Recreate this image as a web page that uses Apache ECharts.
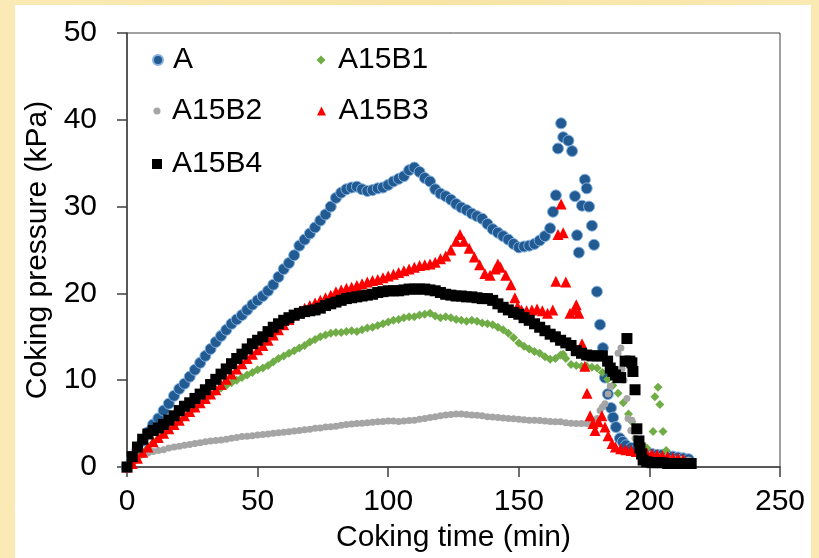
<!DOCTYPE html>
<html>
<head>
<meta charset="utf-8">
<script src="https://cdn.jsdelivr.net/npm/echarts@6/dist/echarts.min.js"></script>
<style>
  html, body { margin: 0; padding: 0; }
  body { width: 819px; height: 558px; overflow: hidden; position: relative;
         background: linear-gradient(90deg, #fbeab5 0%, #f7e3a4 50%, #fbe9b3 100%); }
  #panel { position: absolute; left: 15px; top: 5px; width: 796px; height: 553px; background: #ffffff; }
  #chart { position: absolute; left: 0; top: 0; width: 819px; height: 558px; }
</style>
</head>
<body>
<div id="panel"></div>
<div id="chart"></div>
<script>
// ---- data: [coking time (min), coking pressure (kPa)] ----
const seriesNames = ['A', 'A15B1', 'A15B2', 'A15B3', 'A15B4'];
const xTicks = [0, 50, 100, 150, 200, 250];
const yTicks = [0, 10, 20, 30, 40, 50];

const dataA = [
 [0,0],[2,1.0],[4,2.0],[6,3.0],[8,4.0],[10,4.9],[12,5.6],[14,6.5],[16,7.3],[18,8.2],[20,9.0],[22,9.6],[24,10.4],[26,11.2],[28,12.0],
 [30,12.8],[32,13.6],[34,14.4],[36,15.1],[38,15.8],[40,16.5],[42,17.0],[44,17.5],[46,18.1],[48,18.7],[50,19.2],[52,19.7],[54,20.3],
 [56,21.0],[58,21.9],[60,22.8],[62,23.5],[64,24.4],[66,25.5],[68,26.2],[70,26.9],[72,27.6],[74,28.4],[76,29.1],[78,30.0],[80,31.0],
 [82,31.6],[84,32.0],[86,32.2],[88,32.3],[90,32.0],[92,31.8],[94,31.9],[96,32.1],[98,32.2],[100,32.5],[102,32.9],[104,33.2],[106,33.5],
 [108,34.2],[110,34.5],[112,34.0],[114,33.3],[116,32.9],[118,32.0],[120,31.5],[122,31.2],[124,30.8],[126,30.3],[128,29.9],[130,29.6],
 [132,29.2],[134,28.9],[136,28.6],[138,28.0],[140,27.4],[142,27.0],[144,26.6],[146,26.2],[148,25.7],[150,25.3],[152,25.4],[154,25.5],
 [156,25.7],[158,26.1],[160,26.6],[162,27.5],[163.1,29.4],[164.2,31.3],[165,36.7],[166.2,39.6],[167,38.0],[169,37.6],[170.4,36.4],
 [171.5,31.2],[172.3,26.7],[173,24.7],[174.2,30.1],[175.3,33.1],[176,32.1],[176.9,30.0],[178,27.8],[178.8,25.6],[179.9,20.2],
 [181.1,16.4],[182.2,13.7],[183,10.3],[184.1,8.4],[185.3,6.8],[186.1,5.7],[187.2,4.6],[188.7,3.3],[189.8,2.9],[191,2.5],[193,2.2],
 [195,2.0],[197,1.8],[199,1.6],[201,1.5],[203,1.4],[205,1.4],[207,1.3],[209,1.2],[211,1.1],[213,1.0],[215,0.9]
];

const dataB1 = [
 [0,0],[2,0.4],[4,1.0],[6,1.6],[8,2.2],[10,2.8],[12,3.3],[14,3.8],[16,4.3],[18,4.8],[20,5.3],[22,5.8],[24,6.3],[26,6.8],[28,7.3],
 [30,7.8],[32,8.3],[34,8.7],[36,9.1],[38,9.4],[40,9.7],[42,10.0],[44,10.3],[46,10.6],[48,10.9],[50,11.2],[52,11.4],[54,11.7],
 [56,12.1],[58,12.5],[60,12.8],[62,13.1],[64,13.4],[66,13.7],[68,14.0],[70,14.4],[72,14.7],[74,15.0],[76,15.2],[78,15.4],[80,15.5],
 [82,15.5],[84,15.6],[86,15.7],[88,15.6],[90,15.8],[92,16.0],[94,16.1],[96,16.3],[98,16.5],[100,16.7],[102,16.9],[104,17.0],
 [106,17.2],[108,17.3],[110,17.3],[112,17.5],[114,17.6],[116,17.7],[118,17.4],[120,17.2],[122,17.3],[124,17.2],[126,17.0],
 [128,16.9],[130,16.8],[132,16.9],[134,16.8],[136,16.6],[138,16.5],[140,16.4],[142,16.1],[144,15.8],[146,15.4],[148,14.9],
 [150,14.3],[152,13.9],[154,13.6],[156,13.3],[158,13.1],[160,12.7],[162,12.4],[164,12.5],[166,12.9],[167,13.0],[168,12.5],
 [170,11.8],[172,11.7],[174,11.6],[176,11.6],[178,11.5],[180,11.4],[182,10.9],[184,10.1],[186,9.4],[188,8.5],[190,7.4],[192,6.1],
 [193.3,5.2],[194.5,4.3],[195.6,3.0],[197,2.6],[199,2.2],[201.4,4.1],[202.1,8.1],[203.3,9.2],[204,7.2],[205.2,4.1],[206.4,1.9]
];

const dataB2 = [
 [0,0],[2,0.6],[4,1.1],[6,1.4],[8,1.6],[10,1.8],[12,1.9],[14,2.0],[16,2.2],[18,2.3],[20,2.4],[22,2.5],[24,2.6],[26,2.7],[28,2.8],
 [30,2.9],[32,3.0],[34,3.05],[36,3.1],[38,3.2],[40,3.3],[42,3.4],[44,3.5],[46,3.55],[48,3.6],[50,3.7],[52,3.75],[54,3.8],[56,3.9],
 [58,3.95],[60,4.0],[62,4.05],[64,4.15],[66,4.2],[68,4.3],[70,4.35],[72,4.45],[74,4.5],[76,4.6],[78,4.65],[80,4.7],[82,4.8],
 [84,4.9],[86,4.95],[88,5.0],[90,5.05],[92,5.1],[94,5.15],[96,5.2],[98,5.25],[100,5.3],[102,5.3],[104,5.25],[106,5.3],[108,5.35],
 [110,5.4],[112,5.5],[114,5.6],[116,5.7],[118,5.8],[120,5.9],[122,6.0],[124,6.05],[126,6.1],[128,6.1],[130,6.05],[132,6.0],
 [134,5.95],[136,5.9],[138,5.8],[140,5.75],[142,5.7],[144,5.65],[146,5.6],[148,5.55],[150,5.5],[152,5.45],[154,5.4],[156,5.4],
 [158,5.35],[160,5.3],[162,5.25],[164,5.2],[166,5.2],[168,5.1],[170,5.05],[172,5.0],[174,5.0],[176,5.0],[178,5.1],[180,5.6],
 [181.1,6.5],[182,6.9],[183,7.3],[184.2,8.4],[185,9.3],[188,13.1],[189.1,13.7],[189.5,11.3],[190.3,10.0],[191.4,7.9],[191.8,5.6],
 [192.9,4.2],[193.3,5.4],[194.5,3.3],[196,2.3],[198,1.8],[200,1.5],[203,1.3],[206,1.1],[209,1.0],[212,0.9],[215,0.8]
];

const dataB3 = [
 [0,0],[2,0.4],[4,1.0],[6,1.7],[8,2.3],[10,2.9],[12,3.4],[14,3.9],[16,4.4],[18,4.9],[20,5.4],[22,5.9],[24,6.4],[26,6.9],[28,7.4],
 [30,7.9],[32,8.4],[34,8.9],[36,9.5],[38,10.1],[40,10.7],[42,11.3],[44,11.9],[46,12.5],[48,13.0],[50,13.5],[52,14.0],[54,14.6],
 [56,15.2],[58,15.8],[60,16.4],[62,17.0],[64,17.5],[66,17.9],[68,18.3],[70,18.6],[72,18.9],[74,19.2],[76,19.5],[78,19.8],[80,20.2],
 [82,20.4],[84,20.6],[86,20.7],[88,20.9],[90,21.1],[92,21.3],[94,21.5],[96,21.6],[98,21.8],[100,22.0],[102,22.2],[104,22.4],
 [106,22.6],[108,22.8],[110,23.0],[112,23.2],[114,23.3],[116,23.4],[118,23.6],[120,24.0],[122,24.3],[124,25.0],[126,26.0],
 [127.5,26.8],[129,26.0],[131,25.2],[133,24.2],[135,23.3],[137,22.3],[139,22.1],[141,22.8],[142,23.4],[143,23.0],[145,22.1],
 [147,21.0],[148.5,19.5],[149.5,18.5],[151,18.1],[153,18.0],[155,18.1],[157,18.2],[159,18.0],[161,17.7],[163,18.1],
 [164.2,21.4],[165,26.8],[166.2,30.3],[167,27.0],[168,21.3],[169.6,17.7],[171.2,18.1],[172,18.7],[173,17.7],[174.2,14.2],
 [175.3,11.6],[176.1,8.5],[177.3,5.9],[178.4,5.0],[179.2,4.2],[180.5,5.2],[181.8,5.9],[183,4.6],[184.2,3.6],[185.7,2.7],
 [187,2.3],[189,2.1],[191,2.0],[193,1.9],[195,1.8],[197,1.7],[199,1.6],[201,1.5],[203,1.4],[205,1.3],[207,1.2],[209,1.1],
 [211,1.0],[213,0.9]
];

const dataB4 = [
 [0,0],[2,1.2],[4,2.3],[6,3.2],[8,3.8],[10,4.2],[12,4.5],[14,4.9],[16,5.4],[18,5.9],[20,6.5],[22,7.0],[24,7.4],[26,7.9],[28,8.4],
 [30,8.9],[32,9.5],[34,10.1],[36,10.7],[38,11.3],[40,11.9],[42,12.5],[44,13.0],[46,13.6],[48,14.2],[50,14.6],[52,15.0],[54,15.6],
 [56,16.1],[58,16.5],[60,16.9],[62,17.2],[64,17.5],[66,17.7],[68,17.9],[70,18.0],[72,18.1],[74,18.3],[76,18.6],[78,18.8],[80,19.0],
 [82,19.2],[84,19.4],[86,19.5],[88,19.6],[90,19.7],[92,19.8],[94,19.9],[96,20.1],[98,20.2],[100,20.3],[102,20.3],[104,20.3],
 [106,20.4],[108,20.5],[110,20.5],[112,20.5],[114,20.5],[116,20.4],[118,20.3],[120,20.1],[122,19.9],[124,19.8],[126,19.7],
 [128,19.7],[130,19.6],[132,19.6],[134,19.5],[136,19.4],[138,19.4],[140,19.2],[142,18.8],[144,18.4],[146,18.1],[148,17.8],
 [150,17.6],[152,17.2],[154,16.9],[156,16.5],[158,16.1],[160,15.7],[162,15.3],[164,15.0],[166,14.6],[168,14.3],[170,14.0],
 [172,13.4],[174,13.1],[176,12.9],[178,12.8],[180,12.8],[182,12.8],[184,12.2],[185,11.4],[186,11.0],[187,10.6],[188,10.3],
 [189,10.3],[190.7,12.2],[191.4,14.8],[192.5,12.2],[193.3,12.0],[193.7,11.0],[194.5,8.9],[195.2,4.4],[196,3.0],[196.4,2.2],
 [197,1.5],[197.6,0.8],[199,0.6],[201,0.5],[203,0.5],[205,0.5],[207,0.4],[209,0.4],[211,0.4],[213,0.4],[215,0.4],[216,0.4]
];

const chart = echarts.init(document.getElementById('chart'), null, { renderer: 'canvas' });
const FONT = 'Liberation Sans, Arial, sans-serif';

function legendItem(name, left, top, w, h, pad) {
  return {
    data: [name], left: left, top: top, orient: 'horizontal', padding: 0,
    itemWidth: w, itemHeight: h, selectedMode: false,
    textStyle: { fontFamily: FONT, fontSize: 30, color: '#000', padding: [0, 0, 0, pad] }
  };
}

const option = {
  backgroundColor: 'transparent',
  animation: false,
  grid: { left: 127, right: 39, top: 33, bottom: 86, show: true, borderColor: '#404040', borderWidth: 1, backgroundColor: 'transparent' },
  legend: [
    legendItem('A',     152, 45, 10, 10, 5),
    legendItem('A15B1', 316.5, 45, 9, 9, 7.5),
    legendItem('A15B2', 153.5, 96, 7, 7, 6.5),
    legendItem('A15B3', 317, 96, 9, 9, 7.5),
    legendItem('A15B4', 152, 149, 10, 10, 5)
  ],
  xAxis: {
    type: 'value', min: xTicks[0], max: xTicks[xTicks.length - 1], interval: 50,
    name: 'Coking time (min)', nameLocation: 'middle', nameGap: 56,
    nameTextStyle: { fontFamily: FONT, fontSize: 30, color: '#000' },
    axisLine: { show: true, lineStyle: { color: '#404040', width: 1.5 } },
    axisTick: { show: true, inside: false, length: 10, lineStyle: { color: '#404040', width: 1.5 } },
    axisLabel: { fontFamily: FONT, fontSize: 30, color: '#000', margin: 20 },
    splitLine: { show: false }
  },
  yAxis: {
    type: 'value', min: yTicks[0], max: yTicks[yTicks.length - 1], interval: 10,
    name: 'Coking pressure (kPa)', nameLocation: 'middle', nameGap: 66, nameRotate: 90,
    nameTextStyle: { fontFamily: FONT, fontSize: 30, color: '#000' },
    axisLine: { show: true, lineStyle: { color: '#404040', width: 1.5 } },
    axisTick: { show: true, inside: false, length: 10, lineStyle: { color: '#404040', width: 1.5 } },
    axisLabel: { fontFamily: FONT, fontSize: 30, color: '#000', margin: 30 },
    splitLine: { show: false }
  },
  series: [
    { name: seriesNames[0], type: 'scatter', data: dataA, symbol: 'circle', symbolSize: 11,
      itemStyle: { color: '#225a92', borderColor: '#82b0e0', borderWidth: 1, opacity: 1 } },
    { name: seriesNames[1], type: 'scatter', data: dataB1, symbol: 'diamond', symbolSize: 9,
      itemStyle: { color: '#70ad47', opacity: 1 } },
    { name: seriesNames[2], type: 'scatter', data: dataB2, symbol: 'circle', symbolSize: 7,
      itemStyle: { color: '#a5a5a5', opacity: 1 } },
    { name: seriesNames[3], type: 'scatter', data: dataB3, symbol: 'triangle', symbolSize: 11,
      itemStyle: { color: '#ff0000', opacity: 1 } },
    { name: seriesNames[4], type: 'scatter', data: dataB4, symbol: 'rect', symbolSize: 11,
      itemStyle: { color: '#000000', opacity: 1 } }
  ]
};
chart.setOption(option);
</script>
</body>
</html>
